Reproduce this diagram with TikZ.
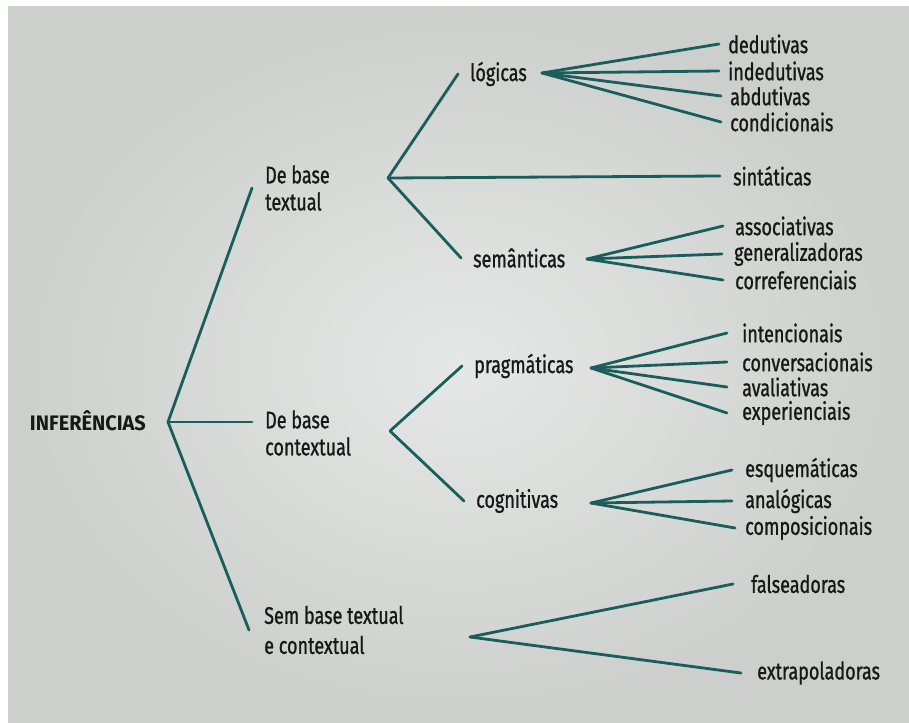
\documentclass[tikz,border=0pt]{standalone}
\usepackage{fontspec}
\setmainfont[FakeStretch=0.75,FakeBold=1]{Fira Sans}
\newfontfamily\negreta[FakeStretch=0.95]{Fira Sans}
\definecolor{verdet}{RGB}{26,94,92}
\definecolor{tinta}{RGB}{24,24,24}
\definecolor{paperclar}{RGB}{230,232,231}
\definecolor{paperfosc}{RGB}{204,207,204}

\begin{document}
\begin{tikzpicture}[x=1pt,y=-1pt,
        branca/.style={draw=verdet,line width=2.8pt,line cap=round},
        mot/.style={text=tinta,font=\fontsize{24}{27}\selectfont,inner ysep=0pt,inner xsep=13pt,anchor=west},
        grup/.style={mot,align=left}]
        \useasboundingbox (0,0) rectangle (909,722);
        \fill[white] (0,0) rectangle (909,722);
        \shade[inner color=paperclar,outer color=paperfosc] (8,7) rectangle (909,722); % paper
        % punts on es divideixen les branques
        \coordinate (arrel) at (168,422);
        \coordinate (jt) at (388,178); \coordinate (jc) at (390,431); \coordinate (js) at (470,637);
        \coordinate (jlog) at (542,73); \coordinate (jsem) at (587,259);
        \coordinate (jprag) at (591,368); \coordinate (jcog) at (591,503);
        % primer nivell
        \node[mot,font=\fontsize{21}{28}\negreta\bfseries,anchor=east,inner xsep=0pt] (inf) at (146,421) {INFERÊNCIAS};
        \node[grup] (tb) at (252,188) {De base\\textual};
        \node[grup] (cb) at (252,433) {De base\\contextual};
        \node[grup,font=\fontsize{24}{30}\selectfont,inner xsep=15pt] (sb) at (249,630) {Sem base textual\\e contextual};
        % segon nivell
        \node[mot,inner xsep=12pt] (log) at (458,74) {lógicas};
        \node[mot] (sint) at (720,176) {sintáticas};
        \node[mot,inner xsep=12pt] (sem) at (461,258) {semânticas};
        \node[mot,inner xsep=12pt] (prag) at (462,366) {pragmáticas};
        \node[mot,inner xsep=12pt] (cog) at (464,501) {cognitivas};
        % fulles
        \node[mot,inner xsep=9pt] (ded) at (719,44) {dedutivas};
        \node[mot,inner xsep=9pt] (ind) at (719,71) {indedutivas};
        \node[mot,inner xsep=9pt] (abd) at (721,96) {abdutivas};
        \node[mot,inner xsep=9pt] (cond) at (721,122) {condicionais};
        \node[mot,inner xsep=12pt] (ass) at (723,226) {associativas};
        \node[mot,inner xsep=12pt] (gen) at (722,254) {generalizadoras};
        \node[mot,inner xsep=12pt] (corr) at (723,280) {correferenciais};
        \node[mot,inner xsep=15pt] (int) at (727,333) {intencionais};
        \node[mot,inner xsep=15pt] (conv) at (727,362) {conversacionais};
        \node[mot,inner xsep=15pt] (aval) at (727,387) {avaliativas};
        \node[mot,inner xsep=15pt] (exp) at (727,413) {experienciais};
        \node[mot] (esq) at (732,470) {esquemáticas};
        \node[mot] (anal) at (732,501) {analógicas};
        \node[mot,inner xsep=10pt] (comp) at (735,528) {composicionais};
        \node[mot,inner xsep=18pt] (fals) at (733,584) {falseadoras};
        \node[mot,inner xsep=16pt] (extr) at (741,673) {extrapoladoras};
        % branques
        \draw[branca] (arrel) -- (tb.west); \draw[branca] (arrel) -- ([yshift=11pt]cb.west); \draw[branca] (arrel) -- (sb.west);
        \draw[branca] (jt) -- (log.west); \draw[branca] (jt) -- (sint.west); \draw[branca] (jt) -- (sem.west);
        \draw[branca] (jc) -- (prag.west); \draw[branca] (jc) -- (cog.west);
        \draw[branca] (js) -- (fals.west); \draw[branca] (js) -- (extr.west);
        \draw[branca] (jlog) -- (ded.west); \draw[branca] (jlog) -- (ind.west); \draw[branca] (jlog) -- (abd.west); \draw[branca] (jlog) -- (cond.west);
        \draw[branca] (jsem) -- (ass.west); \draw[branca] (jsem) -- (gen.west); \draw[branca] (jsem) -- (corr.west);
        \draw[branca] (jprag) -- (int.west); \draw[branca] (jprag) -- (conv.west); \draw[branca] (jprag) -- (aval.west); \draw[branca] (jprag) -- (exp.west);
        \draw[branca] (jcog) -- (esq.west); \draw[branca] (jcog) -- (anal.west); \draw[branca] (jcog) -- (comp.west);
\end{tikzpicture}
\end{document}
